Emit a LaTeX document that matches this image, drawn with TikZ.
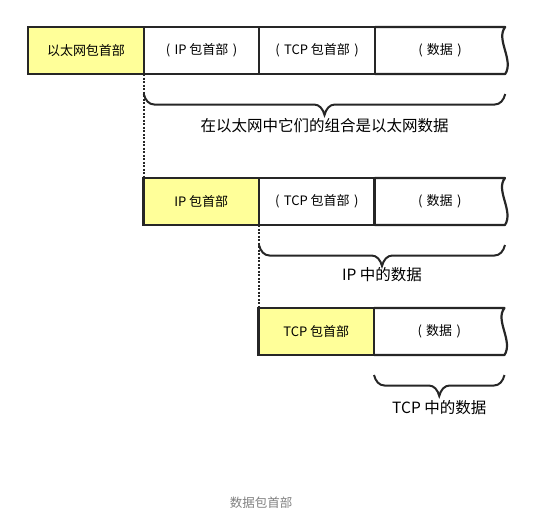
\documentclass[tikz,border=0pt]{standalone}
\usepackage{fontspec}
\setmainfont{Noto Sans CJK SC}
\usetikzlibrary{positioning,decorations.pathreplacing}

\definecolor{hdrfill}{HTML}{FFFF99}
\definecolor{edge}{HTML}{262626}

\tikzset{
  cell/.style={draw=edge, line width=2.2pt, minimum width=115.5pt,
    minimum height=47pt, inner sep=0pt, outer sep=0pt,
    font=\fontsize{13}{15}\selectfont},
  hdrcell/.style={cell, fill=hdrfill},
  datacell/.style={minimum width=130.5pt, minimum height=47pt, inner sep=0pt,
    outer sep=0pt, font=\fontsize{13}{15}\selectfont},
  frame/.style={draw=edge, line width=2.2pt, line join=round},
  brace/.style={draw=edge, line width=2pt,
    decoration={brace, mirror, amplitude=10.5pt, raise=10pt,
      transform={yscale=2}}, decorate},
  lbl/.style={font=\fontsize{15.5}{18}\selectfont},
  guide/.style={draw=edge, dash pattern=on 2pt off 1.5pt, line width=2pt}
}

\begin{document}
\begin{tikzpicture}[x=1pt, y=-1pt]
\useasboundingbox (0,0) rectangle (555,515);

% Ethernet frame
\node[hdrcell] (eth) at (86,50.5) {以太网包首部};
\node[cell, right=0pt of eth] (ip1) {(\,\,IP 包首部\,\,)};
\node[cell, right=0pt of ip1] (tcp1) {(\,\,TCP 包首部\,\,)};
\node[datacell, right=0pt of tcp1] (d1) {(\,\,数据\,\,)};
\draw[frame] (tcp1.north east) -- (d1.north east)
  .. controls +(-10,12) and +(9,-14) .. (d1.south east) -- (tcp1.south east);
\draw[brace] (ip1.south west) -- (d1.south east)
  node[lbl, midway, below=40pt] (lab1) {在以太网中它们的组合是以太网数据};

\draw[guide] (eth.south east) -- (ip1.south west |- 0,178);

% IP packet
\node[hdrcell] (ip2) at (201.25,201.5) {IP 包首部};
\node[cell, right=0pt of ip2] (tcp2) {(\,\,TCP 包首部\,\,)};
\node[datacell, right=0pt of tcp2] (d2) {(\,\,数据\,\,)};
\draw[frame] (tcp2.north east) -- (d2.north east)
  .. controls +(-10,12) and +(9,-14) .. (d2.south east) -- (tcp2.south east);
\draw[brace] (tcp2.south west) -- (d2.south east)
  node[lbl, midway, below=38pt] (lab2) {IP 中的数据};

\draw[guide] (ip2.south east) -- (tcp2.south west |- 0,308);

% TCP segment
\node[hdrcell] (tcp3) at (316.25,331.5) {TCP 包首部};
\node[datacell, right=0pt of tcp3] (d3) {(\,\,数据\,\,)};
\draw[frame] (tcp3.north east) -- (d3.north east)
  .. controls +(-10,12) and +(9,-14) .. (d3.south east) -- (tcp3.south east);
\draw[brace] (d3.south west) -- (d3.south east)
  node[lbl, midway, below=41pt] (lab3) {TCP 中的数据};

\node[font=\fontsize{12.5}{15}\selectfont, text=black!50] (cap) at (261,503) {数据包首部};

\end{tikzpicture}
\end{document}
